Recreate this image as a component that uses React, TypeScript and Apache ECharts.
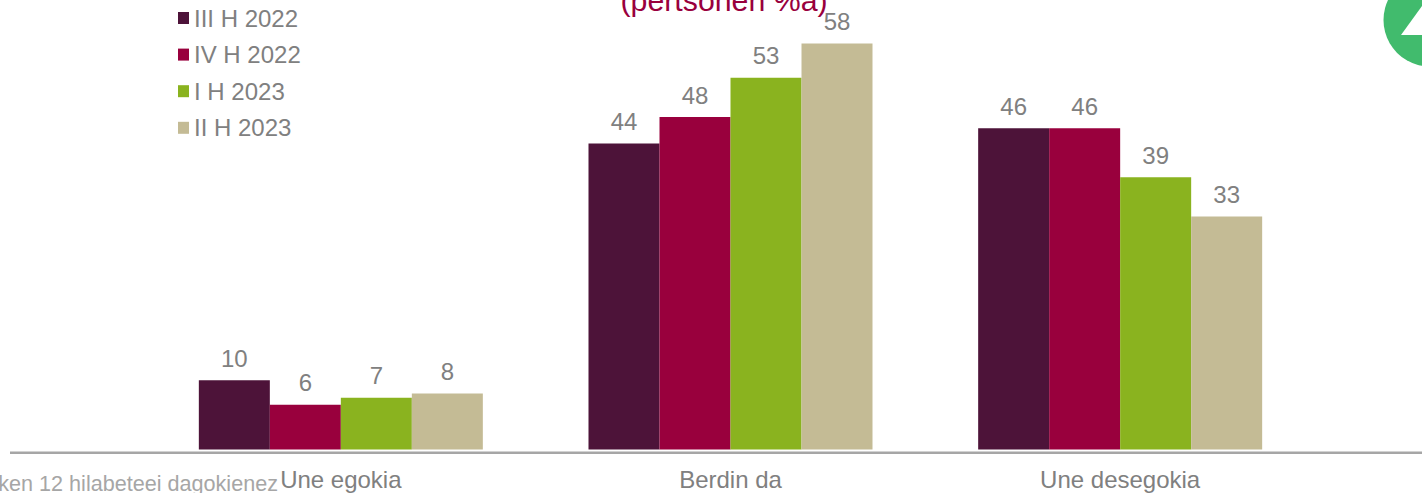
import React, { useEffect, useRef } from "react";
import * as echarts from "echarts";

const categories = ["Une egokia", "Berdin da", "Une desegokia"];
const seriesNames = ["III H 2022", "IV H 2022", "I H 2023", "II H 2023"];
const iiiH2022 = [9.9, 43.7, 45.9];
const ivH2022 = [6.4, 47.5, 45.9];
const iH2023 = [7.4, 53.1, 38.9];
const iiH2023 = [8, 58, 33.3];
const seriesColors = ["#4D1339", "#99003D", "#8AB31F", "#C4BB95"];
const titleText = "(pertsonen %a)";
const footnote = "Azken 12 hilabeteei dagokienez";

const FONT = "'Liberation Sans', Arial, sans-serif";

export default function App() {
  const ref = useRef<HTMLDivElement>(null);
  useEffect(() => {
    if (!ref.current) return;
    const chart = echarts.init(ref.current, undefined, { renderer: "svg" });
    const values = [iiiH2022, ivH2022, iH2023, iiH2023];
    chart.setOption({
      animation: false,
      backgroundColor: "#fff",
      textStyle: { fontFamily: FONT },
      grid: { left: 146, right: 107, top: 29.5, bottom: 43.5, containLabel: false },
      legend: {
        orient: "vertical",
        left: 173,
        top: 0,
        itemWidth: 11,
        itemHeight: 12,
        itemGap: 10.6,
        icon: "rect",
        data: seriesNames,
        formatter: (n: string) => n,
        textStyle: { color: "#808080", fontSize: 24, fontFamily: FONT, lineHeight: 26 },
      },
      xAxis: {
        type: "category",
        data: categories,
        axisLine: { show: false },
        axisTick: { show: false },
        axisLabel: { color: "#808080", fontSize: 24, fontFamily: FONT, margin: 17.5 },
      },
      yAxis: { type: "value", min: 0, max: 60, show: false, splitLine: { show: false } },
      series: seriesNames.map((name, i) => ({
        name,
        type: "bar",
        data: values[i],
        barWidth: 71,
        barGap: "0%",
        itemStyle: { color: seriesColors[i] },
        label: {
          show: true,
          position: "top",
          distance: 10,
          color: "#808080",
          fontSize: 24,
          fontFamily: FONT,
          formatter: (p: any) => String(Math.round(p.value)),
        },
      })),
      graphic: [
        { type: "line", shape: { x1: 10, y1: 452.7, x2: 1422, y2: 452.7 }, style: { stroke: "#A6A6A6", lineWidth: 2.6 } },
        { type: "text", x: 724, y: 0, style: { text: titleText, fill: "#99003D", fontSize: 30.3, fontFamily: FONT, textAlign: "center", textVerticalAlign: "middle" } },
        { type: "text", x: 278, y: 483.5, style: { text: footnote, fill: "#A6A6A6", fontSize: 21.6, fontFamily: FONT, textAlign: "right", textVerticalAlign: "middle" } },
        { type: "circle", shape: { cx: 1430, cy: 20, r: 46.5 }, style: { fill: "#41BB6D" } },
        { type: "polygon", shape: { points: [[1401, 35], [1459, 35], [1430, -5]] }, style: { fill: "#FFFFFF" } },
      ],
    });
    return () => chart.dispose();
  }, []);
  return <div ref={ref} style={{ position: "absolute", left: 0, top: 0, width: 1422, height: 493, overflow: "hidden" }} />;
}
